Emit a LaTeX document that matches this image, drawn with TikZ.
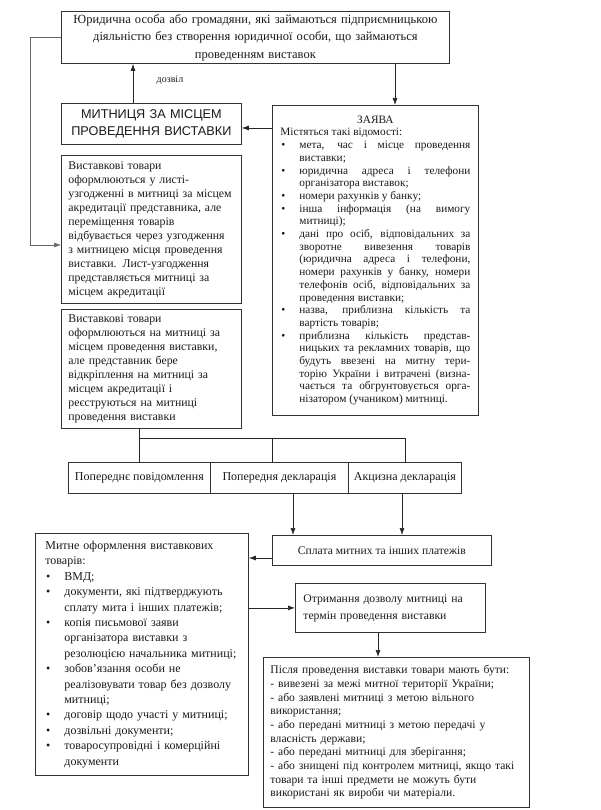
\documentclass[tikz,border=0pt]{standalone}
\usepackage{fontspec}
\setmainfont{Liberation Serif}
\newfontfamily\capsfont{Liberation Sans}
\usetikzlibrary{arrows.meta}
% bullet item with hanging indent
\newcommand\bul{\par\hangindent=19pt\hangafter=0\noindent\llap{\textbullet\hspace{14pt}}}

\begin{document}
\begin{tikzpicture}[x=1pt,y=-1pt]
\tikzset{box/.style={draw=black!80, line width=0.8pt, anchor=north west, inner ysep=0pt, text=black!90}}
\tikzset{arr/.style={-{Latex[length=7pt,width=5pt]}, line width=0.7pt, draw=black!85}}
\useasboundingbox (0,0) rectangle (600,810);

% top row
\node[box, text width=372pt, inner xsep=8pt, minimum height=52pt, align=center,
  font=\fontsize{12.5}{17.5}\selectfont] (person) at (61,11)
  {Юридична особа або громадяни, які займаються підприємницькою\\
   діяльністю без створення юридичної особи, що займаються\\
   проведенням виставок};
\node[box, text width=170pt, inner xsep=5pt, minimum height=41pt, align=center,
  font=\capsfont\fontsize{12.7}{17}\selectfont] (customs) at (61,103)
  {МИТНИЦЯ ЗА МІСЦЕМ\\ ПРОВЕДЕННЯ ВИСТАВКИ};
\node[font=\fontsize{10}{12}\selectfont, text=black!90] (permission) at (170,80) {дозвіл};

\node[box, text width=190pt, inner xsep=8pt, minimum height=310pt, align=justify,
  font=\fontsize{11.3}{12.7}\selectfont] (application) at (272,105)
  {\tolerance=10000 \spaceskip=.25em plus 3em minus .02em
   {\centering ЗАЯВА\par}
   Містяться такі відомості:
   \bul мета, час і місце проведення\linebreak виставки;
   \bul юридична адреса і телефони\linebreak організатора виставок;
   \bul номери рахунків у банку;
   \bul інша інформація (на вимогу\linebreak митниці);
   \bul дані про осіб, відповідальних за\linebreak зворотне вивезення товарів\linebreak
     (юридична адреса і телефони,\linebreak номери рахунків у банку, номери\linebreak
     телефонів осіб, відповідальних за\linebreak проведення виставки;
   \bul назва, приблизна кількість та\linebreak вартість товарів;
   \bul приблизна кількість представ-\linebreak ницьких та рекламних товарів, що\linebreak
     будуть ввезені на митну тери-\linebreak торію України і витрачені (визна-\linebreak
     чається та обгрунтовується орга-\linebreak нізатором (учаником) митниці.\par};

% left column
\node[box, text width=166pt, inner xsep=7pt, minimum height=148pt, align=left,
  font=\fontsize{11.8}{14}\selectfont] (agree) at (61,155)
  {Виставкові товари\\ оформлюються у листі-\\ узгодженні в митниці за місцем\\
   акредитації представника, але\\ переміщення товарів\\ відбувається через узгодження\\
   з митницею місця проведення\\ виставки. Лист-узгодження\\ представляється митниці за\\
   місцем акредитації};
\node[box, text width=166pt, inner xsep=7pt, minimum height=119pt, align=left,
  font=\fontsize{11.8}{14}\selectfont] (place) at (61,309)
  {Виставкові товари\\ оформлюються на митниці за\\ місцем проведення виставки,\\
   але представник бере\\ відкріплення на митниці за\\ місцем акредитації і\\
   реєструються на митниці\\ проведення виставки};

% declarations
\node[box, minimum width=142pt, minimum height=31pt, inner xsep=2pt,
  font=\fontsize{12}{14}\selectfont] (notice) at (68,462) {Попереднє повідомлення};
\node[box, minimum width=138pt, minimum height=31pt, inner xsep=2pt,
  font=\fontsize{12}{14}\selectfont] (predecl) at (210,462) {Попередня декларація};
\node[box, minimum width=113pt, minimum height=31pt, inner xsep=2pt,
  font=\fontsize{12}{14}\selectfont] (excise) at (348,462) {Акцизна декларація};

\node[box, minimum width=219pt, minimum height=30pt, inner xsep=2pt,
  font=\fontsize{11.6}{14}\selectfont] (pay) at (272,535) {Сплата митних та інших платежів};

\node[box, text width=193pt, inner xsep=10pt, minimum height=242pt,
  font=\fontsize{12}{15.4}\selectfont] (docs) at (35,533)
  {\raggedright Митне оформлення виставкових\newline товарів:
   \bul ВМД;
   \bul документи, які підтверджують\newline сплату мита і інших платежів;
   \bul копія письмової заяви\newline організатора виставки з\newline резолюцією начальника митниці;
   \bul зобов’язання особи не\newline реалізовувати товар без дозволу\newline митниці;
   \bul договір щодо участі у митниці;
   \bul дозвільні документи;
   \bul товаросупровідні і комерційні\newline документи\par};

\node[box, text width=174pt, inner xsep=8pt, minimum height=49pt, align=left,
  font=\fontsize{11.7}{17}\selectfont] (permit) at (295,583)
  {Отримання дозволу митниці на\\ термін проведення виставки};

\node[box, text width=252pt, inner xsep=7pt, minimum height=150pt, align=left,
  font=\fontsize{11.6}{13.7}\selectfont] (after) at (263,657)
  {Після проведення виставки товари мають бути:\\
   - вивезені за межі митної території України;\\
   - або заявлені митниці з метою вільного\\ використання;\\
   - або передані митниці з метою передачі у\\ власність держави;\\
   - або передані митниці для зберігання;\\
   - або знищені під контролем митниці, якщо такі\\
   товари та інші предмети не можуть бути\\ використані як вироби чи матеріали.};

% connectors
\draw[arr] (customs.north -| 133,0) -- (person.south -| 133,0);
\draw[arr] (person.south -| 395,0) -- (application.north -| 395,0);
\draw[arr] (application.west |- 0,128) -- (customs.east |- 0,128);
\draw[arr, line width=0.5pt, draw=black!60] (person.west) -- ++(-31,0) |- (agree.west |- 0,245);

\coordinate (bus) at (272,438);
\draw[line width=0.7pt, black!85] (place.south -| notice.north) -- (notice.north);
\draw[line width=0.7pt, black!85] (notice.north |- bus) -- (excise.north |- bus) -- (excise.north);
\draw[line width=0.7pt, black!85] (bus) -- (bus |- predecl.north);

\draw[arr] (predecl.south -| 293,0) -- (pay.north -| 293,0);
\draw[arr] (excise.south -| 402,0) -- (pay.north -| 402,0);
\draw[arr] (pay.west |- 0,558) -- (docs.east |- 0,558);
\draw[arr] (docs.east |- permit.west) -- (permit.west);
\draw[arr] (permit.south -| 378,0) -- (after.north -| 378,0);
\end{tikzpicture}
\end{document}
